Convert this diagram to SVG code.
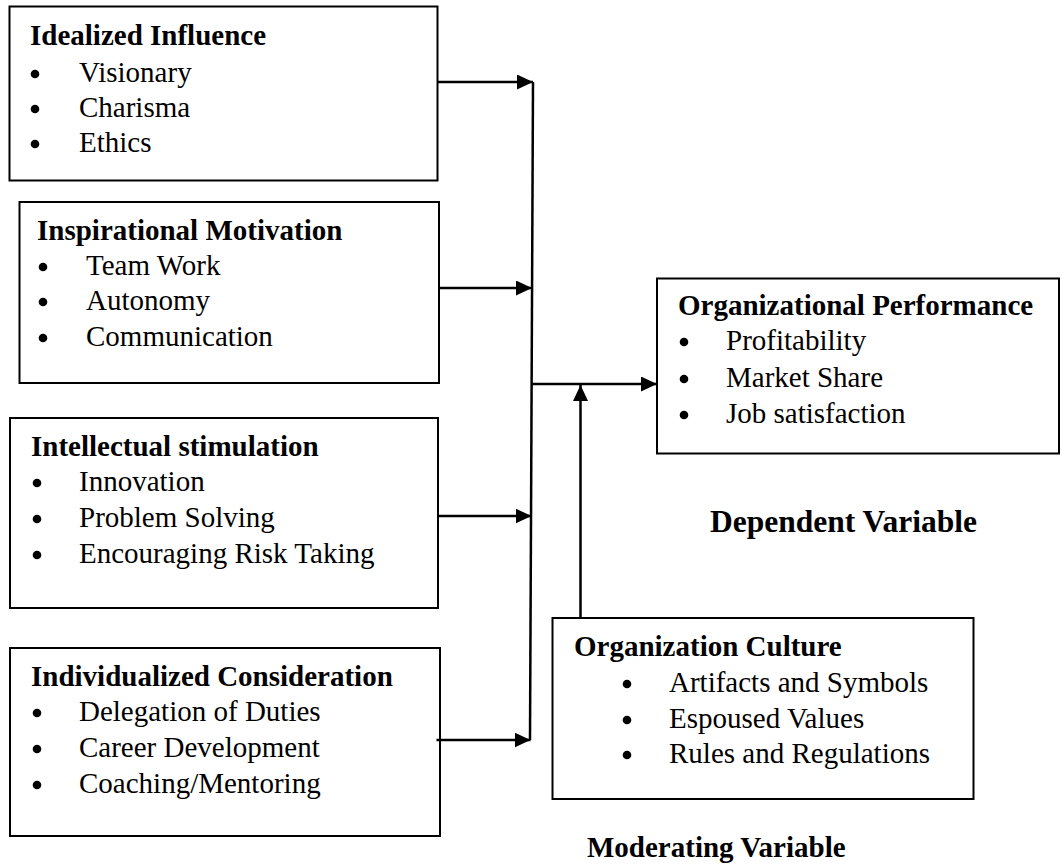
<svg xmlns="http://www.w3.org/2000/svg" width="1062" height="866" viewBox="0 0 1062 866">
  <style>
    .box { fill: #ffffff; stroke: #000000; stroke-width: 2; }
    .title { font-family: "Liberation Serif", "Times New Roman", serif; font-size: 29px; font-weight: bold; fill: #000000; }
    .item { font-family: "Liberation Serif", "Times New Roman", serif; font-size: 29px; fill: #000000; }
    .label { font-family: "Liberation Serif", "Times New Roman", serif; font-size: 31.5px; font-weight: bold; fill: #000000; }
    .dot { fill: #000000; }
    .conn { fill: none; stroke: #000000; stroke-width: 2.5; }
  </style>
  <defs>
    <marker id="arrow" markerUnits="userSpaceOnUse" markerWidth="16" markerHeight="15" refX="16" refY="7.5" orient="auto">
      <path d="M0,0 L16,7.5 L0,15 Z" fill="#000000"/>
    </marker>
  </defs>
  <rect width="1062" height="866" fill="#ffffff"/>

  <!-- independent variables -->
  <g id="idealized-influence">
    <rect class="box" x="9.5" y="6.5" width="428" height="174"/>
    <text class="title" x="30" y="45">Idealized Influence</text>
    <circle class="dot" cx="35" cy="74" r="4.3"/>
    <text class="item" x="79" y="82">Visionary</text>
    <circle class="dot" cx="35" cy="109" r="4.3"/>
    <text class="item" x="79" y="117">Charisma</text>
    <circle class="dot" cx="35" cy="144" r="4.3"/>
    <text class="item" x="79" y="152">Ethics</text>
  </g>

  <g id="inspirational-motivation">
    <rect class="box" x="19.5" y="202" width="419.5" height="181"/>
    <text class="title" x="37" y="240">Inspirational Motivation</text>
    <circle class="dot" cx="43" cy="267" r="4.3"/>
    <text class="item" x="86" y="275">Team Work</text>
    <circle class="dot" cx="43" cy="302" r="4.3"/>
    <text class="item" x="86" y="310">Autonomy</text>
    <circle class="dot" cx="43" cy="338" r="4.3"/>
    <text class="item" x="86" y="346">Communication</text>
  </g>

  <g id="intellectual-stimulation">
    <rect class="box" x="10" y="418" width="428" height="190"/>
    <text class="title" x="31" y="456">Intellectual stimulation</text>
    <circle class="dot" cx="37" cy="483" r="4.3"/>
    <text class="item" x="79" y="491">Innovation</text>
    <circle class="dot" cx="37" cy="519" r="4.3"/>
    <text class="item" x="79" y="527">Problem Solving</text>
    <circle class="dot" cx="37" cy="555" r="4.3"/>
    <text class="item" x="79" y="563">Encouraging Risk Taking</text>
  </g>

  <g id="individualized-consideration">
    <rect class="box" x="10" y="648" width="430" height="188"/>
    <text class="title" x="31" y="686">Individualized Consideration</text>
    <circle class="dot" cx="37" cy="713" r="4.3"/>
    <text class="item" x="79" y="721">Delegation of Duties</text>
    <circle class="dot" cx="37" cy="749" r="4.3"/>
    <text class="item" x="79" y="757">Career Development</text>
    <circle class="dot" cx="37" cy="785" r="4.3"/>
    <text class="item" x="79" y="793">Coaching/Mentoring</text>
  </g>

  <!-- dependent variable -->
  <g id="organizational-performance">
    <rect class="box" x="657" y="278.5" width="402" height="175"/>
    <text class="title" x="678" y="315">Organizational Performance</text>
    <circle class="dot" cx="684" cy="342" r="4.3"/>
    <text class="item" x="726" y="350">Profitability</text>
    <circle class="dot" cx="684" cy="379" r="4.3"/>
    <text class="item" x="726" y="387">Market Share</text>
    <circle class="dot" cx="684" cy="415" r="4.3"/>
    <text class="item" x="726" y="423">Job satisfaction</text>
  </g>
  <g id="dependent-label">
    <text class="label" x="710" y="532">Dependent Variable</text>
  </g>

  <!-- moderating variable -->
  <g id="organization-culture">
    <rect class="box" x="552.5" y="618" width="421" height="181"/>
    <text class="title" x="574" y="656">Organization Culture</text>
    <circle class="dot" cx="627" cy="684" r="4.3"/>
    <text class="item" x="669" y="692">Artifacts and Symbols</text>
    <circle class="dot" cx="627" cy="720" r="4.3"/>
    <text class="item" x="669" y="728">Espoused Values</text>
    <circle class="dot" cx="627" cy="755" r="4.3"/>
    <text class="item" x="669" y="763">Rules and Regulations</text>
  </g>
  <g id="moderating-label">
    <text class="title" x="587" y="857">Moderating Variable</text>
  </g>

  <!-- connectors -->
  <g id="connectors">
    <path class="conn" d="M437.5,82 H533" marker-end="url(#arrow)"/>
    <path class="conn" d="M439,288 H532" marker-end="url(#arrow)"/>
    <path class="conn" d="M438,516 H531.5" marker-end="url(#arrow)"/>
    <path class="conn" d="M436.5,740 H530.5" marker-end="url(#arrow)"/>
    <path class="conn" d="M533,82 L530,740" stroke-width="2"/>
    <path class="conn" d="M532,384 H657" marker-end="url(#arrow)"/>
    <path class="conn" d="M580.5,618 V385" marker-end="url(#arrow)"/>
  </g>
</svg>
